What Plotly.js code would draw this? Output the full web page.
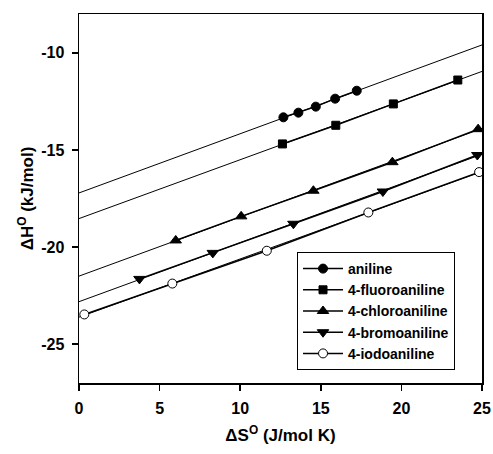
<!DOCTYPE html>
<html>
<head>
<meta charset="utf-8">
<script src="https://cdn.plot.ly/plotly-3.0.1.min.js"></script>
<style>html,body{margin:0;padding:0;background:#fff;}#chart{width:493px;height:454px;}</style>
</head>
<body>
<div id="chart"></div>
<script>
// Series names
const seriesNames = ["aniline", "4-fluoroaniline", "4-chloroaniline", "4-bromoaniline", "4-iodoaniline"];

// Data points (ΔS° J/mol K, ΔH° kJ/mol)
const anilineX = [12.68, 13.61, 14.69, 15.89, 17.23];
const anilineY = [-13.32, -13.08, -12.77, -12.36, -11.95];

const fluoroX = [12.62, 15.93, 19.50, 23.50];
const fluoroY = [-14.69, -13.73, -12.63, -11.40];

const chloroX = [6.00, 10.06, 14.54, 19.44, 24.76];
const chloroY = [-19.66, -18.42, -17.10, -15.63, -13.93];

const bromoX = [3.75, 8.30, 13.30, 18.85, 24.71];
const bromoY = [-21.64, -20.30, -18.80, -17.14, -15.26];

const iodoX = [0.33, 5.79, 11.65, 17.95, 24.82];
const iodoY = [-23.47, -21.88, -20.19, -18.22, -16.14];

// Regression lines span the full x axis
const fitRange = [0, 25];

const xTicks = [0, 5, 10, 15, 20, 25];
const xTickLabels = ["0", "5", "10", "15", "20", "25"];
const yTicks = [-25, -20, -15, -10];
const yTickLabels = ["-25", "-20", "-15", "-10"];

const xs = [anilineX, fluoroX, chloroX, bromoX, iodoX];
const ys = [anilineY, fluoroY, chloroY, bromoY, iodoY];
const symbols = ["circle", "square", "triangle-up", "triangle-down", "circle"];
const fills = ["black", "black", "black", "black", "white"];
const sizes = [9, 8, 10, 10, 9];

function linfit(x, y) {
  const n = x.length;
  const mx = x.reduce((a, b) => a + b, 0) / n;
  const my = y.reduce((a, b) => a + b, 0) / n;
  let sxy = 0, sxx = 0;
  for (let i = 0; i < n; i++) { sxy += (x[i] - mx) * (y[i] - my); sxx += (x[i] - mx) ** 2; }
  const b = sxy / sxx;
  return {a: my - b * mx, b: b};
}

const FONT = "Liberation Sans, Arial, Helvetica, sans-serif";

const traces = [];
for (let i = 0; i < seriesNames.length; i++) {
  const f = linfit(xs[i], ys[i]);
  traces.push({
    x: fitRange,
    y: fitRange.map(v => f.a + f.b * v),
    mode: "lines",
    line: {color: "black", width: 1},
    showlegend: false,
    hoverinfo: "skip"
  });
}
for (let i = 0; i < seriesNames.length; i++) {
  traces.push({
    x: xs[i], y: ys[i], name: "<b>" + seriesNames[i] + "</b>",
    mode: "lines+markers",
    line: {color: "black", width: 1.5},
    marker: {symbol: symbols[i], size: sizes[i], color: fills[i], line: {color: "black", width: 1}}
  });
}

const layout = {
  width: 493, height: 454,
  margin: {l: 79, r: 11, t: 14, b: 71},
  paper_bgcolor: "white", plot_bgcolor: "white",
  font: {family: FONT, color: "black", size: 14},
  showlegend: true,
  legend: {
    x: 0.541, y: 0.355, xanchor: "left", yanchor: "top",
    bordercolor: "black", borderwidth: 1, bgcolor: "white",
    font: {size: 14, family: FONT, color: "black"},
    tracegroupgap: 0, itemwidth: 40
  },
  xaxis: {
    range: [0, 25], tickvals: xTicks, ticktext: xTickLabels.map(t => "<b>" + t + "</b>"),
    ticks: "outside", ticklen: 6, tickwidth: 1.5, tickcolor: "black", ticklabelstandoff: 4,
    showline: true, linewidth: 1.5, linecolor: "black", mirror: true, showgrid: false, zeroline: false,
    tickfont: {size: 16, family: FONT, color: "black"},
    title: {text: "<b>ΔS<sup>O</sup> (J/mol K)</b>", font: {size: 17, family: FONT, color: "black"}, standoff: 13}
  },
  yaxis: {
    range: [-27, -8], tickvals: yTicks, ticktext: yTickLabels.map(t => "<b>" + t + "</b>"),
    ticks: "outside", ticklen: 6, tickwidth: 1.5, tickcolor: "black", ticklabelstandoff: 4,
    showline: true, linewidth: 1.5, linecolor: "black", mirror: true, showgrid: false, zeroline: false,
    tickfont: {size: 16, family: FONT, color: "black"},
    title: {text: "<b>ΔH<sup>O</sup> (kJ/mol)</b>", font: {size: 17, family: FONT, color: "black"}, standoff: 3}
  }
};

Plotly.newPlot("chart", traces, layout, {displayModeBar: false, staticPlot: true});
</script>
</body>
</html>
